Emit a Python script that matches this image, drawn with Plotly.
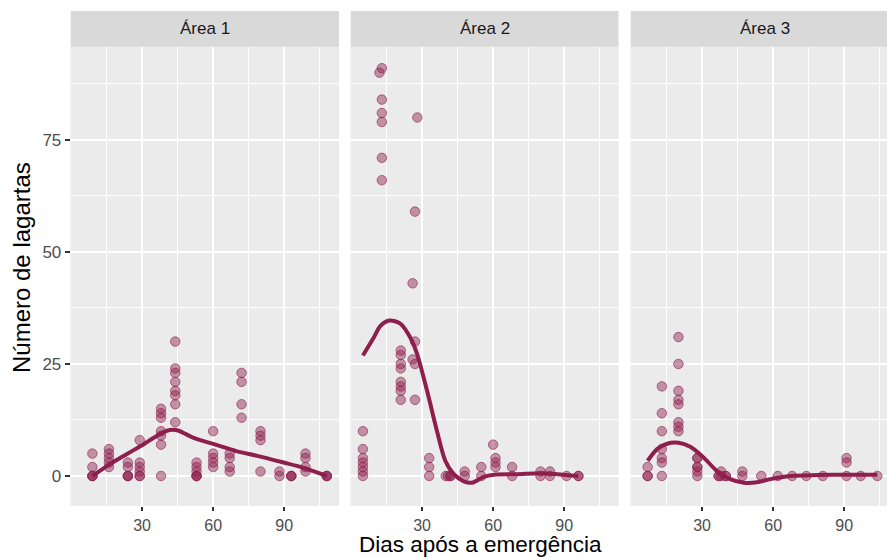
import plotly.graph_objects as go

# ---- observations: larvae counts by days after emergence, per area ----
area1_days = [9, 9, 9, 9, 9,
              16, 16, 16, 16, 16,
              24, 24, 24, 24, 24,
              29, 29, 29, 29, 29, 29,
              38, 38, 38, 38, 38, 38, 38,
              44, 44, 44, 44, 44, 44, 44, 44,
              53, 53, 53, 53, 53, 53,
              60, 60, 60, 60, 60,
              67, 67, 67, 67,
              72, 72, 72, 72,
              80, 80, 80, 80,
              88, 88,
              93, 93, 93,
              99, 99, 99, 99,
              108, 108, 108]
area1_count = [0, 0, 0, 2, 5,
               2, 3, 4, 5, 6,
               0, 0, 0, 2, 3,
               0, 0, 1, 2, 3, 8,
               0, 7, 9, 10, 13, 14, 15,
               12, 16, 18, 19, 21, 23, 24, 30,
               0, 0, 0, 1, 2, 3,
               2, 3, 4, 5, 10,
               1, 2, 4, 5,
               13, 16, 21, 23,
               1, 8, 9, 10,
               0, 1,
               0, 0, 0,
               1, 2, 4, 5,
               0, 0, 0]

area2_days = [5, 5, 5, 5, 5, 5, 5,
              13, 13, 13, 13, 13, 12, 13,
              21, 21, 21, 21, 21, 21, 21, 21,
              27, 27, 26, 27, 26, 27, 28,
              33, 33, 33,
              40, 41, 42, 42,
              48, 48,
              55, 55,
              60, 61, 61, 61,
              68, 68,
              80, 80,
              84, 84,
              91,
              96, 96]
area2_count = [0, 1, 2, 3, 4, 6, 10,
               66, 71, 79, 81, 84, 90, 91,
               17, 19, 20, 21, 24, 25, 27, 28,
               17, 25, 26, 30, 43, 59, 80,
               0, 2, 4,
               0, 0, 0, 0,
               0, 1,
               0, 2,
               7, 2, 3, 4,
               0, 2,
               0, 1,
               0, 1,
               0,
               0, 0]

area3_days = [7, 7, 7,
              13, 13, 13, 13, 13, 13, 13,
              20, 20, 20, 20, 20, 20, 20, 20,
              28, 28, 28, 28, 28, 28,
              37, 37, 38, 38, 40, 40,
              47, 47,
              55, 62, 68, 74, 81,
              91, 91, 91,
              97, 104]
area3_count = [0, 0, 2,
               0, 3, 4, 6, 10, 14, 20,
               10, 11, 12, 16, 17, 19, 25, 31,
               0, 1, 2, 2, 4, 4,
               0, 0, 0, 1, 0, 0,
               0, 1,
               0, 0, 0, 0, 0,
               0, 3, 4,
               0, 0]

# ---- smoothed trend per area ----
area1_fit_days = [9, 16.6, 23.6, 30.7, 36.3, 40.5, 43, 45.5, 48.3, 51.8,
                  60.3, 70.1, 78.6, 89.8, 98.3, 108]
area1_fit = [0, 2.7, 4.9, 7.1, 9.0, 10.1, 10.3, 10.1, 9.4, 8.5,
             7.1, 5.5, 4.5, 3.0, 1.8, 0]
area2_fit_days = [5, 9.6, 12.4, 16.3, 20.8, 25, 27.9, 32.1, 36.3, 39.8,
                  43.4, 47.6, 51.1, 56, 60.3, 70.1, 80, 87, 96]
area2_fit = [26.9, 30.9, 33.5, 34.7, 34.0, 30.9, 27.2, 19, 10, 3.4,
             0.4, -1.2, -1.5, -0.2, 0.3, 0.4, 0.6, 0.4, 0]
area3_fit_days = [7, 11, 15.2, 20.1, 25, 30.7, 36.3, 41.9, 47.6, 53.2,
                  58.8, 67.3, 78.6, 91.2, 104]
area3_fit = [3.4, 6.0, 7.2, 7.4, 6.5, 4.1, 1.1, -0.7, -1.5, -1.4,
             -0.7, 0, 0.2, 0.3, 0.3]

panel_labels = ["Área 1", "Área 2", "Área 3"]
x_ticks = [30, 60, 90]
x_minor = [15, 45, 75, 105]
y_ticks = [0, 25, 50, 75]
y_minor = [12.5, 37.5, 62.5, 87.5]

W, H = 887, 558
POINT = "rgba(142,30,78,0.45)"
POINT_EDGE = "rgba(142,30,78,0.6)"
LINE = "#8E1F4D"
PANEL_BG = "#EBEBEB"
STRIP_BG = "#D9D9D9"
FONT = "Liberation Sans, Arial, Helvetica, sans-serif"

# panel extents in pixels (left, right); the third panel runs off the canvas
panels_px = [(70.7, 339.0), (350.7, 618.5), (630.7, 898.5)]
px_per_day = (339.0 - 70.7) / (113.15 + 0.15)
x_lo = -0.15
top_px, bottom_px = 46.7, 505.8
y_range = [-6.65, 95.8]

series = [
    (area1_days, area1_count, area1_fit_days, area1_fit),
    (area2_days, area2_count, area2_fit_days, area2_fit),
    (area3_days, area3_count, area3_fit_days, area3_fit),
]

fig = go.Figure()
layout = {}
shapes = []
annotations = []

for i, ((dx, cy, fx, fy), (l, r)) in enumerate(zip(series, panels_px)):
    n = "" if i == 0 else str(i + 1)
    r_vis = min(r, W)
    x_hi = x_lo + (r_vis - l) / px_per_day
    fig.add_trace(go.Scatter(
        x=dx, y=cy, mode="markers", xaxis="x" + n, yaxis="y" + n,
        marker=dict(size=9.5, color=POINT, line=dict(color=POINT_EDGE, width=1)),
        showlegend=False, cliponaxis=True))
    fig.add_trace(go.Scatter(
        x=fx, y=fy, mode="lines", xaxis="x" + n, yaxis="y" + n,
        line=dict(color=LINE, width=4, shape="spline", smoothing=0.8),
        showlegend=False))
    layout["xaxis" + n] = dict(
        domain=[l / W, r_vis / W], range=[x_lo, x_hi], anchor="y" + n,
        tickvals=x_ticks, ticks="outside", ticklen=4.5, tickwidth=1.8,
        tickcolor="#333333", showgrid=True, gridcolor="white", gridwidth=2,
        zeroline=False, showline=False,
        tickfont=dict(family=FONT, size=16, color="#4D4D4D"),
        minor=dict(tickvals=x_minor, showgrid=True, gridcolor="white",
                   gridwidth=1, ticklen=0),
        fixedrange=True)
    layout["yaxis" + n] = dict(
        domain=[1 - bottom_px / H, 1 - top_px / H], range=y_range,
        anchor="x" + n, tickvals=y_ticks,
        showticklabels=(i == 0), ticks="outside" if i == 0 else "",
        ticklen=5, tickwidth=1.8, tickcolor="#333333",
        showgrid=True, gridcolor="white", gridwidth=2,
        zeroline=False, showline=False,
        tickfont=dict(family=FONT, size=17, color="#4D4D4D"),
        minor=dict(tickvals=y_minor, showgrid=True, gridcolor="white",
                   gridwidth=1, ticklen=0),
        fixedrange=True)
    # panel background
    shapes.append(dict(type="rect", xref="paper", yref="paper",
                       x0=l / W, x1=r_vis / W,
                       y0=1 - bottom_px / H, y1=1 - top_px / H,
                       fillcolor=PANEL_BG, line=dict(width=0), layer="below"))
    # facet strip
    shapes.append(dict(type="rect", xref="paper", yref="paper",
                       x0=l / W, x1=r_vis / W,
                       y0=1 - top_px / H, y1=1 - 11 / H,
                       fillcolor=STRIP_BG, line=dict(width=0), layer="below"))
    annotations.append(dict(text=panel_labels[i], xref="paper", yref="paper",
                            x=(l + r) / 2 / W, y=1 - 29 / H,
                            showarrow=False, xanchor="center", yanchor="middle",
                            font=dict(family=FONT, size=17, color="#1A1A1A")))

annotations.append(dict(text="Dias após a emergência", xref="paper", yref="paper",
                        x=481 / W, y=0, showarrow=False,
                        xanchor="center", yanchor="bottom", borderpad=0,
                        font=dict(family=FONT, size=22.5, color="black")))
annotations.append(dict(text="Número de lagartas", xref="paper", yref="paper",
                        x=21 / W, y=1 - 268 / H, showarrow=False, textangle=-90,
                        xanchor="center", yanchor="middle",
                        font=dict(family=FONT, size=24, color="black")))

fig.update_layout(
    width=W, height=H, margin=dict(l=0, r=0, t=0, b=0),
    paper_bgcolor="white", plot_bgcolor=PANEL_BG,
    shapes=shapes, annotations=annotations, **layout)

fig.write_html("out.html")
